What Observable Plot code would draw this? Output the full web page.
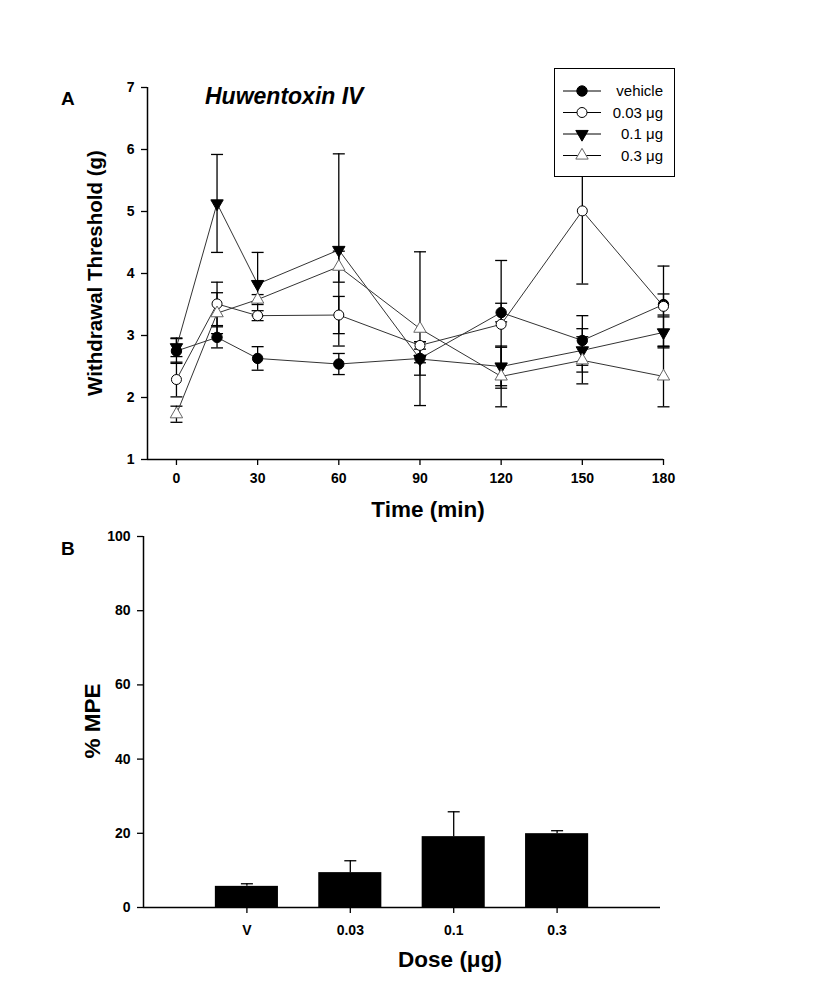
<!DOCTYPE html>
<html>
<head>
<meta charset="utf-8">
<script src="https://cdn.jsdelivr.net/npm/d3@7"></script>
<script src="https://cdn.jsdelivr.net/npm/@observablehq/plot@0.6"></script>
<style>
  body { margin: 0; background: #fff; }
  #page { position: relative; width: 824px; height: 987px; font-family: "Liberation Sans", Arial, sans-serif; color: #000; }
  .abs { position: absolute; white-space: nowrap; }
  .big { font-weight: bold; font-size: 22.5px; }
  .rot { transform: translate(-50%, -50%) rotate(-90deg); }
  .ctr { transform: translate(-50%, -50%); }
  #legend { position: absolute; left: 554px; top: 68px; width: 119px; height: 107px; border: 1px solid #000; background: #fff; }
</style>
</head>
<body>
<div id="page">
  <div id="top" class="abs" style="left:0;top:0"></div>
  <div id="bottom" class="abs" style="left:0;top:520px"></div>
  <div class="abs big" style="left:61px;top:88px;font-size:19px">A</div>
  <div class="abs big" style="left:61px;top:538px;font-size:19px">B</div>
  <div class="abs big" style="left:205px;top:83px;font-style:italic;font-size:23px">Huwentoxin IV</div>
  <div class="abs big rot" style="left:95px;top:273px;font-size:20.5px">Withdrawal Threshold (g)</div>
  <div class="abs big ctr" style="left:428px;top:510px">Time (min)</div>
  <div class="abs big rot" style="left:93px;top:721px">% MPE</div>
  <div class="abs big ctr" style="left:450px;top:960px">Dose (μg)</div>
  <div id="legend"></div>
</div>
<script>
// ---------- Panel A data ----------
const times = [0, 15, 30, 60, 90, 120, 150, 180];
const seriesNames = ["vehicle", "0.03 μg", "0.1 μg", "0.3 μg"];
const vehicleMean = [2.75, 2.97, 2.63, 2.54, 2.63, 3.37, 2.92, 3.50];
const vehicleSem  = [0.20, 0.17, 0.19, 0.17, 0.27, 0.15, 0.40, 0.17];
const dose003Mean = [2.29, 3.51, 3.32, 3.33, 2.84, 3.18, 5.01, 3.47];
const dose003Sem  = [0.28, 0.35, 0.08, 0.30, 0.06, 1.03, 1.18, 0.65];
const dose01Mean  = [2.81, 5.13, 3.83, 4.38, 2.62, 2.50, 2.76, 3.05];
const dose01Sem   = [0.15, 0.79, 0.51, 1.55, 0.06, 0.31, 0.35, 0.25];
const dose03Mean  = [1.73, 3.36, 3.58, 4.11, 3.11, 2.34, 2.60, 2.34];
const dose03Sem   = [0.13, 0.33, 0.08, 0.25, 1.24, 0.49, 0.38, 0.49];
const xTicksA = [0, 30, 60, 90, 120, 150, 180];
const yTicksA = [1, 2, 3, 4, 5, 6, 7];
const xDomainA = [-10.7, 180];
const yDomainA = [1, 7];

// ---------- Panel B data ----------
const doseLabels = ["V", "0.03", "0.1", "0.3"];
const mpeMean = [5.7, 9.4, 19.1, 19.9];
const mpeSem  = [0.7, 3.2, 6.7, 0.8];
const yTicksB = [0, 20, 40, 60, 80, 100];
const yDomainB = [0, 100];

// ---------- styles ----------
const seriesStyle = {
  "vehicle": {symbol: "circle", fill: "black", stroke: "black", rotate: 0, r: 5.2},
  "0.03 μg": {symbol: "circle", fill: "white", stroke: "black", rotate: 0, r: 5},
  "0.1 μg":  {symbol: "triangle", fill: "black", stroke: "black", rotate: 180, r: 4.6},
  "0.3 μg":  {symbol: "triangle", fill: "white", stroke: "#666", rotate: 0, r: 4.6}
};
const capSymbol = {draw(ctx, size) { const w = Math.sqrt(size / Math.PI); ctx.moveTo(-w, 0); ctx.lineTo(w, 0); }};

const means = [vehicleMean, dose003Mean, dose01Mean, dose03Mean];
const sems = [vehicleSem, dose003Sem, dose01Sem, dose03Sem];
const rows = [];
seriesNames.forEach((s, si) => times.forEach((t, i) => rows.push({series: s, t, mean: means[si][i], sem: sems[si][i]})));

const font = {fontFamily: "'Liberation Sans', Arial, sans-serif", fontSize: "14px", fontWeight: "bold", overflow: "visible", background: "transparent"};
const tickFont = {fontWeight: "bold", fontSize: 14, strokeWidth: 1.3};

const dotMarks = seriesNames.map(s => Plot.dot(rows.filter(d => d.series === s), {
  x: "t", y: "mean", symbol: seriesStyle[s].symbol, fill: seriesStyle[s].fill,
  stroke: seriesStyle[s].stroke, rotate: seriesStyle[s].rotate, r: seriesStyle[s].r, strokeWidth: 1
}));

const plotA = Plot.plot({
  width: 824, height: 520,
  marginLeft: 147, marginRight: 161, marginTop: 87, marginBottom: 61,
  x: {domain: xDomainA},
  y: {domain: yDomainA},
  style: font,
  marks: [
    Plot.ruleX([xDomainA[0]], {stroke: "black", strokeWidth: 1.5}),
    Plot.ruleY([yDomainA[0]], {stroke: "black", strokeWidth: 1.5}),
    Plot.axisX({ticks: xTicksA, tickFormat: d3.format("d"), tickSize: 6, tickPadding: 8, label: null, ...tickFont}),
    Plot.axisY({ticks: yTicksA, tickFormat: d3.format("d"), tickSize: 6, tickPadding: 7, label: null, ...tickFont}),
    Plot.ruleX(rows, {x: "t", y1: d => d.mean - d.sem, y2: d => d.mean + d.sem, stroke: "black", strokeWidth: 1.3}),
    Plot.dot(rows, {x: "t", y: d => d.mean + d.sem, symbol: capSymbol, r: 6, stroke: "black", strokeWidth: 1.3}),
    Plot.dot(rows, {x: "t", y: d => d.mean - d.sem, symbol: capSymbol, r: 6, stroke: "black", strokeWidth: 1.3}),
    Plot.line(rows, {x: "t", y: "mean", z: "series", stroke: "#333", strokeWidth: 1}),
    ...dotMarks
  ]
});
document.getElementById("top").appendChild(plotA);

// ---------- Panel B ----------
const bars = doseLabels.map((d, i) => ({dose: d, pos: i + 1, mean: mpeMean[i], sem: mpeSem[i]}));
const halfBar = 0.305;
const plotB = Plot.plot({
  width: 824, height: 467,
  marginLeft: 143, marginRight: 164, marginTop: 16, marginBottom: 80,
  x: {domain: [0, doseLabels.length + 1]},
  y: {domain: yDomainB},
  style: font,
  marks: [
    Plot.rectY(bars, {x1: d => d.pos - halfBar, x2: d => d.pos + halfBar, y1: 0, y2: "mean", fill: "black"}),
    Plot.ruleX(bars, {x: "pos", y1: "mean", y2: d => d.mean + d.sem, stroke: "black", strokeWidth: 1.3}),
    Plot.dot(bars, {x: "pos", y: d => d.mean + d.sem, symbol: capSymbol, r: 6, stroke: "black", strokeWidth: 1.3}),
    Plot.ruleX([0], {stroke: "black", strokeWidth: 1.5}),
    Plot.ruleY([yDomainB[0]], {stroke: "black", strokeWidth: 1.5}),
    Plot.axisX({ticks: bars.map(d => d.pos), tickFormat: p => doseLabels[p - 1], tickSize: 6, tickPadding: 12, label: null, ...tickFont}),
    Plot.axisY({ticks: yTicksB, tickFormat: d3.format("d"), tickSize: 6, tickPadding: 7, label: null, ...tickFont})
  ]
});
document.getElementById("bottom").appendChild(plotB);

// ---------- Legend ----------
const lg = d3.select("#legend").append("svg").attr("width", 119).attr("height", 107)
  .style("font-family", "'Liberation Sans', Arial, sans-serif").style("font-size", "15px");
seriesNames.forEach((s, i) => {
  const st = seriesStyle[s];
  const y = 22 + i * 21.5;
  const g = lg.append("g");
  g.append("line").attr("x1", 8).attr("x2", 46).attr("y1", y).attr("y2", y).attr("stroke", "black").attr("stroke-width", 1);
  g.append("path")
    .attr("d", d3.symbol(st.symbol === "circle" ? d3.symbolCircle : d3.symbolTriangle, st.r * st.r * Math.PI)())
    .attr("transform", `translate(27,${y}) rotate(${st.rotate})`)
    .attr("fill", st.fill).attr("stroke", st.stroke);
  g.append("text").attr("x", 108).attr("y", y).attr("dy", "0.35em").attr("text-anchor", "end").text(s);
});
</script>
</body>
</html>
